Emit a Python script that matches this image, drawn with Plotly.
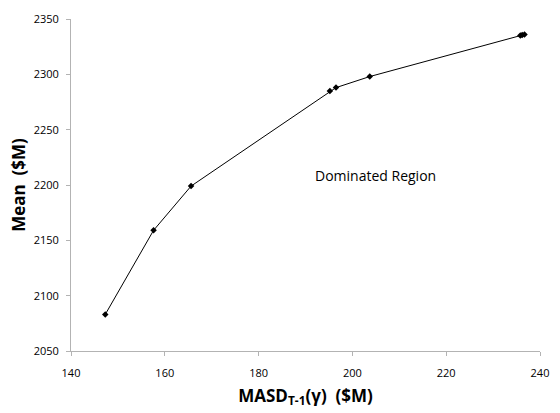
import plotly.graph_objects as go

masd = [147.3, 157.6, 165.6, 195.2, 196.5, 203.7, 235.8, 236.2, 236.7]
mean = [2083, 2159, 2199, 2285, 2288, 2298, 2335, 2335.5, 2336]

x_ticks = [140, 160, 180, 200, 220, 240]
y_ticks = [2050, 2100, 2150, 2200, 2250, 2300, 2350]

FONT = "Open Sans, Lato, sans-serif"

fig = go.Figure()
fig.add_trace(go.Scatter(
    x=masd, y=mean, mode="lines+markers",
    line=dict(color="black", width=1),
    marker=dict(symbol="diamond", size=5, color="black"),
    showlegend=False,
))

fig.add_annotation(x=205, y=2209, text="Dominated Region", showarrow=False,
                   xref="x", yref="y", xanchor="center",
                   font=dict(family=FONT, size=14, color="black"))

axis_common = dict(
    showgrid=False, zeroline=False, showline=True, linecolor="#B3B3B3", linewidth=1,
    ticks="outside", ticklen=4, tickcolor="#B3B3B3",
    tickfont=dict(family=FONT, size=11, color="black"),
)
fig.update_xaxes(range=[140, 240], tickvals=x_ticks, ticklabelstandoff=8, **axis_common,
                 title=dict(text="<b>MASD<sub>T-1</sub>(γ)  ($M)</b>", standoff=10,
                            font=dict(family=FONT, size=17, color="black")))
fig.update_yaxes(range=[2050, 2350], tickvals=y_ticks, ticklabelstandoff=5, **axis_common,
                 title=dict(text="<b>Mean  ($M)</b>", standoff=3,
                            font=dict(family=FONT, size=17, color="black")))

fig.update_layout(
    width=560, height=413,
    margin=dict(l=71, r=11, t=14, b=61),
    plot_bgcolor="white", paper_bgcolor="white",
)
fig.write_html("out.html")
